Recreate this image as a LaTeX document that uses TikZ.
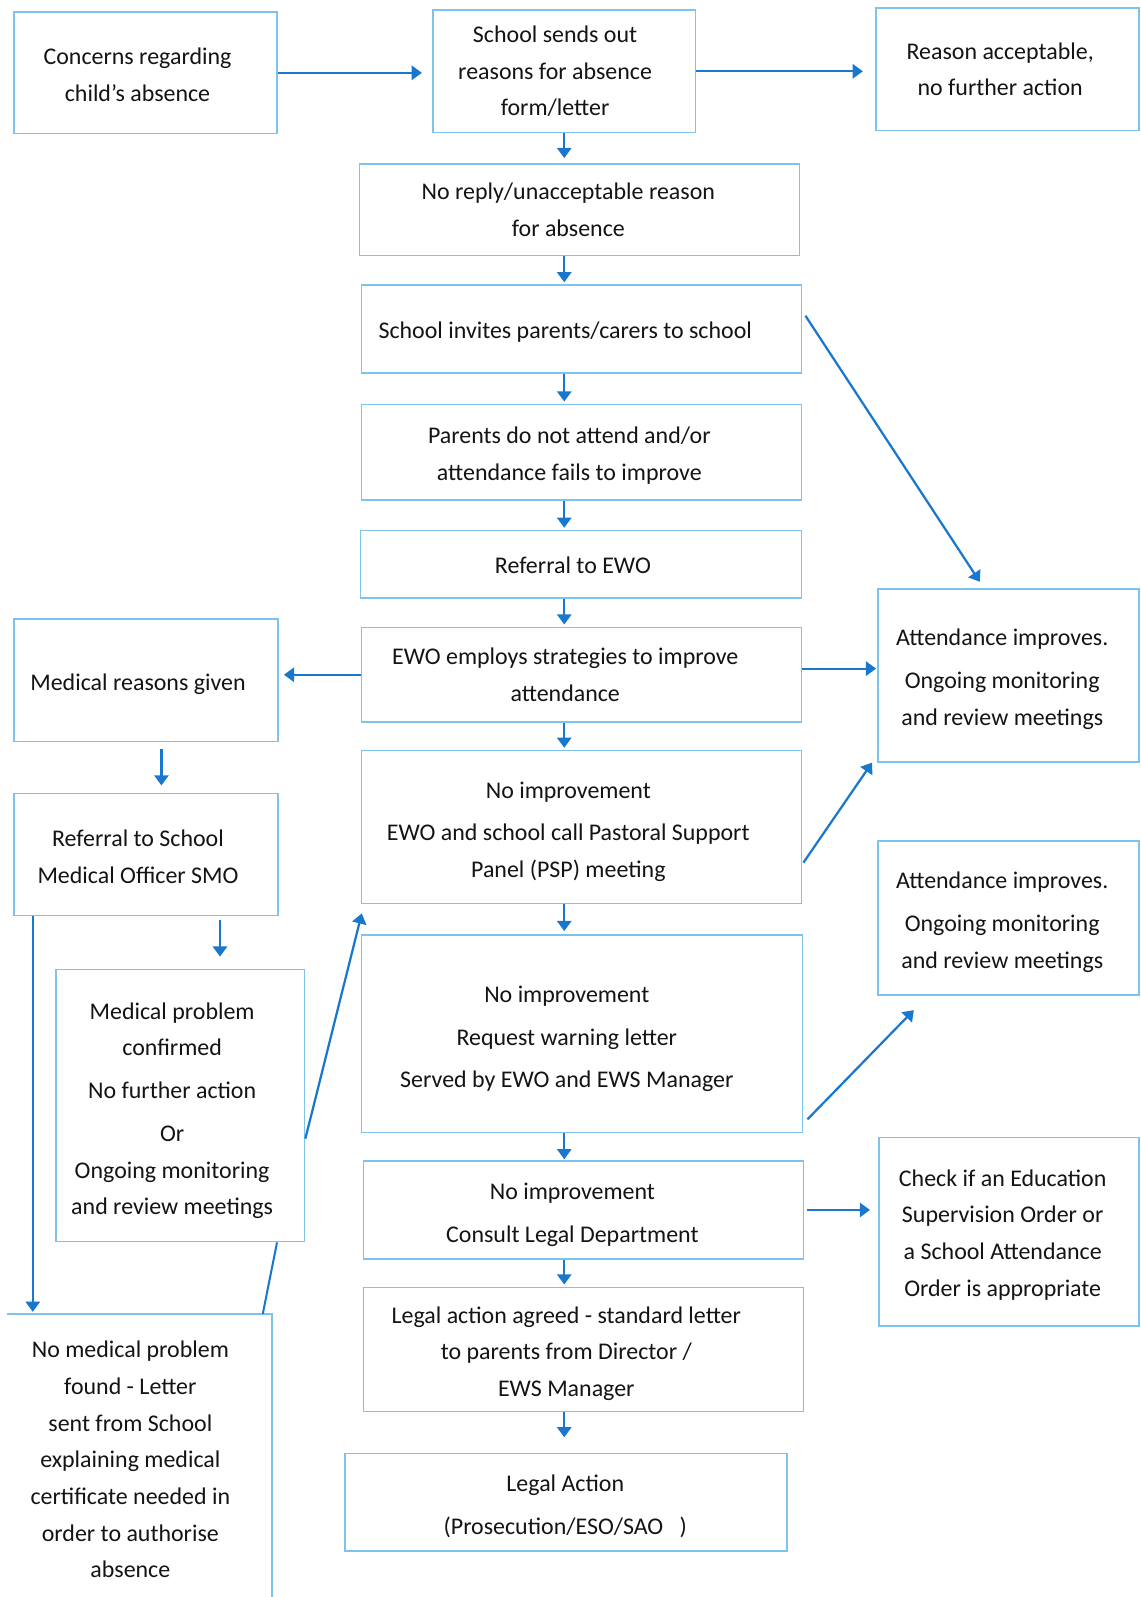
\documentclass[tikz,border=0pt]{standalone}
\usepackage{fontspec}
\setmainfont{Carlito}
\usetikzlibrary{arrows.meta,calc}
\definecolor{boxc}{RGB}{125,195,235}
\definecolor{arrc}{RGB}{25,120,205}
\definecolor{txtc}{RGB}{20,20,20}
\begin{document}
\begin{tikzpicture}[x=1pt,y=-1pt,
  box/.style={draw=boxc, line width=1.6pt, inner sep=0pt},
  plain/.style={inner sep=0pt, align=center, text=txtc, font=\fontsize{23.5}{36}\selectfont},
  tx/.style args={#1/#2/#3}{label={[plain, xshift=#1pt, yshift=#2pt]center:{#3}}},
  arr/.style={draw=arrc, line width=2.2pt, -{Triangle[length=10pt,width=14pt]}},
  ln/.style={draw=arrc, line width=2pt}]
\useasboundingbox[fill=white] (0,0) rectangle (1120,1568);

% top row
\node[box, minimum width=258pt, minimum height=119pt, tx={-8/-2/Concerns regarding\\child’s absence}] (c1) at (143,71.5) {};
\node[box, minimum width=258pt, minimum height=120pt, tx={-9/0/School sends out\\reasons for absence\\form/letter}] (c2) at (554,70) {};
\node[box, minimum width=258pt, minimum height=120pt, tx={-7/0/Reason acceptable,\\no further action}] (c3) at (989,68) {};

% central column
\node[box, minimum width=432pt, minimum height=90pt, tx={-11/0/No reply/unacceptable reason\\for absence}] (b1) at (569,206) {};
\node[box, minimum width=432pt, minimum height=86pt, tx={-16/-3/School invites parents/carers to school}] (b2) at (571,323) {};
\node[box, minimum width=432pt, minimum height=94pt, tx={-12/-3.5/Parents do not attend and/or\\attendance fails to improve}] (b3) at (571,444) {};
\node[box, minimum width=433pt, minimum height=66pt, tx={-8/-1/Referral to EWO}] (b4) at (570.5,554) {};
\node[box, minimum width=432pt, minimum height=93pt, tx={-16/0/EWO employs strategies to improve\\attendance}] (b5) at (571,662.5) {};
\node[box, minimum width=432pt, minimum height=150pt, tx={-13/-4.5/No improvement\\[6pt]EWO and school call Pastoral Support\\Panel (PSP) meeting}] (b6) at (571,812) {};
\node[box, minimum width=433pt, minimum height=194pt, tx={-15/-5/No improvement\\[6pt]Request warning letter\\[6pt]Served by EWO and EWS Manager}] (b7) at (571.5,1015) {};
\node[box, minimum width=432pt, minimum height=96pt, tx={-11/-5/No improvement\\[6pt]Consult Legal Department}] (b8) at (573,1188) {};
\node[box, minimum width=432pt, minimum height=122pt, tx={-17/-4/Legal action agreed - standard letter\\to parents from Director /\\EWS Manager}] (b9) at (573,1325) {};
\node[box, minimum width=434pt, minimum height=96pt, tx={-1/-4/Legal Action\\[6pt](Prosecution/ESO/SAO\hspace{16pt})}] (b10) at (556,1475) {};

% right column
\node[box, minimum width=256pt, minimum height=170pt, tx={-6/-4/Attendance improves.\\[6pt]Ongoing monitoring\\and review meetings}] (r1) at (990,663) {};
\node[box, minimum width=256pt, minimum height=151pt, tx={-6/-4/Attendance improves.\\[6pt]Ongoing monitoring\\and review meetings}] (r2) at (990,901.5) {};
\node[box, minimum width=255pt, minimum height=185pt, tx={-6/-3/Check if an Education\\Supervision Order or\\a School Attendance\\Order is appropriate}] (r3) at (990.5,1209.5) {};

% left column
\node[box, minimum width=259pt, minimum height=120pt, tx={-8/-4/Medical reasons given}] (l1) at (143.5,668) {};
\node[box, minimum width=259pt, minimum height=120pt, tx={-8/-2/Referral to School\\Medical Officer SMO}] (l2) at (143.5,839) {};
\node[box, minimum width=244pt, minimum height=267pt, tx={-8/-5/Medical problem\\confirmed\\[6pt]No further action\\[6pt]Or\\Ongoing monitoring\\and review meetings}] (l3) at (177,1085.5) {};
\node[plain] (l4) at (128,1433) {No medical problem\\found - Letter\\sent from School\\explaining medical\\certificate needed in\\order to authorise\\absence};
\coordinate (l4tl) at (7,1290);
\coordinate (l4tr) at (267,1290);
\coordinate (l4br) at (267,1568);
\draw[draw=boxc, line width=1.6pt] (l4tl) -- (l4tr) -- (l4br);

% connectors: top row
\draw[arr] (c1.east) -- ([xshift=-10pt]c2.west |- c1.east);
\draw[arr] (c2.east) -- ([xshift=-12pt]c3.west |- c2.east);

% central column
\draw[arr, shorten >=5pt] (c2.south) -- (b1.north -| c2.south);
\draw[arr, shorten >=2pt] (b1.south -| c2.south) -- (b2.north -| c2.south);
\draw[arr, shorten >=2pt] (b2.south -| c2.south) -- (b3.north -| c2.south);
\draw[arr, shorten >=2pt] (b3.south -| c2.south) -- (b4.north -| c2.south);
\draw[arr, shorten >=2pt] (b4.south -| c2.south) -- (b5.north -| c2.south);
\draw[arr, shorten >=2pt] (b5.south -| c2.south) -- (b6.north -| c2.south);
\draw[arr, shorten >=3pt] (b6.south -| c2.south) -- (b7.north -| c2.south);
\draw[arr, shorten >=1pt] (b7.south -| c2.south) -- (b8.north -| c2.south);
\draw[arr, shorten >=2pt] (b8.south -| c2.south) -- (b9.north -| c2.south);
\draw[arr, shorten >=15pt] (b9.south -| c2.south) -- (b10.north -| c2.south);

% sideways
\draw[arr] (b5.west) -- ([xshift=5pt]l1.east |- b5.west);
\draw[arr] ($(b5.east)+(0,-6)$) -- ([xshift=-1pt]r1.west |- {$(b5.east)+(0,-6)$});
\draw[arr] ($(b2.east)+(3,-13)$) -- ($(r1.north)+(-28,-6)$);
\draw[arr] ($(b6.east)+(1,35)$) -- ($(r1.south west)+(-5,0)$);
\draw[arr] ($(b7.east)+(4,84)$) -- ($(r2.south west)+(36,14)$);
\draw[arr] ([xshift=3pt]b8.east) -- ([xshift=-8pt]r3.west |- b8.east);

% left column
\draw[arr] ($(l1.south)+(15,7)$) -- ($(l2.north)+(15,-7)$);
\draw[arr] ($(l2.south)+(72.5,3)$) -- ($(l3.north)+(39,-12)$);
\draw[arr, shorten >=2pt] ($(l2.south west)+(19,0)$) -- (l4tl -| {$(l2.south west)+(19,0)$});
\draw[arr] ($(l3.east)+(0,32.5)$) -- ($(b6.south west)+(1,9)$);
\draw[ln] ($(l3.south)+(95,0)$) -- ($(l4tr)+(-9,0)$);
\end{tikzpicture}
\end{document}
